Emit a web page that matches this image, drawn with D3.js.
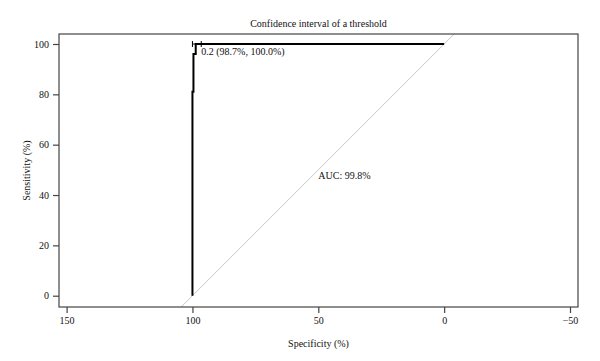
<!DOCTYPE html>
<html><head><meta charset="utf-8">
<script src="https://cdn.jsdelivr.net/npm/d3@7"></script>
<style>body{margin:0;background:#fff}svg{display:block}text{font-family:"Liberation Serif","DejaVu Serif",serif;fill:#111}</style>
</head><body><svg id="c" width="600" height="361"></svg>
<script>
const rocSpecificity = [100, 100, 99.6, 99.6, 98.7, 98.7, 0];
const rocSensitivity = [0, 81, 81, 96, 96, 100, 100];
const thresholdLabel = "0.2 (98.7%, 100.0%)";
const thresholdSpec = 98.7, thresholdSens = 100;
const specCI = [100, 96.5];
const aucText = "AUC: 99.8%";
const xTicks = [150, 100, 50, 0, -50];
const yTicks = [0, 20, 40, 60, 80, 100];

const svg = d3.select("#c");
const box = {l: 59, r: 578, t: 34, b: 307};
const x = d3.scaleLinear().domain([150, -50]).range([66.6, 570]);
const y = d3.scaleLinear().domain([0, 100]).range([295.7, 44]);

svg.append("defs").append("clipPath").attr("id","clip").append("rect")
  .attr("x", box.l).attr("y", box.t).attr("width", box.r-box.l).attr("height", box.b-box.t);

// diagonal
const sL = x.invert(box.l), sR = x.invert(box.r);
svg.append("line").attr("clip-path","url(#clip)")
  .attr("x1", x(sL)).attr("y1", y(100 - sL)).attr("x2", x(sR)).attr("y2", y(100 - sR))
  .attr("stroke", "#c8c8c8").attr("stroke-width", 1);

// frame
svg.append("rect").attr("x", box.l).attr("y", box.t).attr("width", box.r-box.l).attr("height", box.b-box.t)
  .attr("fill","none").attr("stroke","#444").attr("stroke-width",1.2);

// axes
const gx = svg.append("g").attr("transform", `translate(0,${box.b})`)
  .call(d3.axisBottom(x).tickValues(xTicks).tickSize(6).tickPadding(4).tickFormat(d => d < 0 ? "\u2212" + Math.abs(d) : d));
const gy = svg.append("g").attr("transform", `translate(${box.l},0)`)
  .call(d3.axisLeft(y).tickValues(yTicks).tickSize(6).tickPadding(4));
[gx, gy].forEach(g => {
  g.select(".domain").remove();
  g.selectAll(".tick line").attr("stroke","#444").attr("stroke-width",1.2);
  g.selectAll(".tick text").attr("font-size", 10).attr("font-family", '"Liberation Serif", serif').attr("fill","#111");
});

// ROC curve
const pts = rocSpecificity.map((s, i) => [s, rocSensitivity[i]]);
svg.append("path").datum(pts)
  .attr("d", d3.line().x(d => x(d[0])).y(d => y(d[1])))
  .attr("fill","none").attr("stroke","#000").attr("stroke-width",2);

// threshold CI bar
const cy = y(thresholdSens);
const ci = svg.append("g").attr("stroke","#000").attr("stroke-width",1);
ci.append("line").attr("x1", x(specCI[0])).attr("x2", x(specCI[1])).attr("y1", cy).attr("y2", cy);
specCI.forEach(s => ci.append("line").attr("x1", x(s)).attr("x2", x(s)).attr("y1", cy-3).attr("y2", cy+3));
svg.append("text").attr("x", x(specCI[1])).attr("y", cy + 11).attr("font-size", 10).text(thresholdLabel);

// AUC
svg.append("text").attr("x", x(50)).attr("y", y(50) + 9).attr("font-size", 10).text(aucText);

// titles
svg.append("text").attr("x", (box.l+box.r)/2).attr("y", 27).attr("text-anchor","middle").attr("font-size", 10)
  .text("Confidence interval of a threshold");
svg.append("text").attr("x", (box.l+box.r)/2).attr("y", 347).attr("text-anchor","middle").attr("font-size", 10)
  .text("Specificity (%)");
svg.append("text").attr("transform", `translate(30,${(box.t+box.b)/2}) rotate(-90)`).attr("text-anchor","middle").attr("font-size", 10)
  .text("Sensitivity (%)");
</script></body></html>
